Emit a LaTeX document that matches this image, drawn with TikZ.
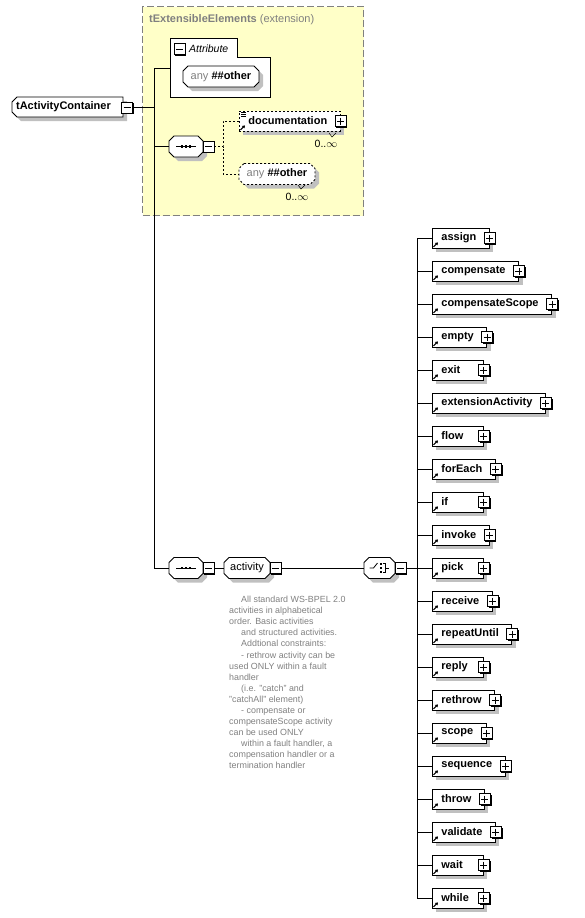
\documentclass[tikz,border=0pt]{standalone}
\usepackage{fontspec}
\setmainfont{Liberation Sans}
\usetikzlibrary{positioning,arrows.meta,shadows}
\definecolor{xsyel}{HTML}{FFFFC8}
\definecolor{xsgray}{HTML}{808080}
\definecolor{xsshadow}{HTML}{C0C0C0}
\newlength{\elw}
\newcommand{\elname}[1]{\settowidth{\elw}{#1}\ifdim\elw<29pt\setlength{\elw}{29pt}\fi\hspace*{9pt}\makebox[\elw][l]{#1}\hspace*{13pt}}
\newcommand{\ind}{\hspace*{12pt}}
% octagon outline: centre x, centre y, half width
\newcommand{\octshape}[3]{(#1-#3+5,#2-10.5) -- (#1+#3-5,#2-10.5) -- (#1+#3,#2-5.5) -- (#1+#3,#2+5.5) -- (#1+#3-5,#2+10.5) -- (#1-#3+5,#2+10.5) -- (#1-#3,#2+5.5) -- (#1-#3,#2-5.5) -- cycle}
% [outline style] name, x, y, half width, text
\newcommand{\octnode}[6][]{%
  \fill[xsshadow, shift={(4,4)}] \octshape{#3}{#4}{#5};
  \draw[wire, fill=white, #1] \octshape{#3}{#4}{#5};
  \node[inner sep=0pt, minimum height=21pt, minimum width={2*#5*1pt}] (#2) at (#3,#4) {#6};}

\begin{document}
\begin{tikzpicture}[
  x=1pt, y=-1pt, font=\fontsize{11}{13}\selectfont,
  shade/.style={drop shadow={shadow xshift=4pt, shadow yshift=-4pt, fill=xsshadow, opacity=1}},
  elem/.style={draw, line width=0.8pt, fill=white, shade, font=\fontsize{11}{13}\selectfont\bfseries, minimum height=20pt, inner sep=0pt, anchor=west},
  pmbox/.style={draw, fill=white, minimum size=11pt, inner sep=0pt, line width=0.7pt, drop shadow={shadow xshift=1.3pt, shadow yshift=-1.3pt, fill=black, opacity=1}},
  plus/.style={pmbox, path picture={\draw[line width=0.8pt] ([xshift=2pt]path picture bounding box.west) -- ([xshift=-2pt]path picture bounding box.east) ([yshift=-2pt]path picture bounding box.north) -- ([yshift=2pt]path picture bounding box.south);}},
  minus/.style={pmbox, path picture={\draw[line width=0.8pt] ([xshift=2pt]path picture bounding box.west) -- ([xshift=-2pt]path picture bounding box.east);}},
  wire/.style={line width=0.8pt},
  opt/.style={wire, dash pattern=on 2pt off 2pt},
  ref/.style={-{Triangle[length=2.6pt,width=3.2pt]}, line width=1pt},
  card/.style={font=\fontsize{10.5}{12}\selectfont, inner sep=0pt},
  desc/.style={font=\fontsize{8.9}{11.07}\selectfont, text=xsgray, align=left, inner sep=0pt},
  pics/seqmark/.style={code={
    \draw[wire] (-10,0) -- (10,0);
    \foreach \dx in {-4,0,4} \fill (\dx-1.3,-1.3) rectangle ++(2.6,2.6);
  }},
  pics/chcmark/.style={code={
    \draw[wire] (-10,0) -- (-6,0) -- (-2,-5);
    \foreach \dy in {-4,0,4} \fill (0,\dy-1.1) rectangle ++(2.2,2.2);
    \draw[wire] (3,-4.5) -- (5.5,-4.5) -- (5.5,4.5) -- (3,4.5) (5.5,0) -- (9.5,0);
  }},
]
\useasboundingbox (0,0) rectangle (584,918);

% --- extension frame ---
\node[draw=xsgray, dash pattern=on 7pt off 3pt, line width=1.3pt, fill=xsyel, minimum width=221pt, minimum height=209pt, anchor=north west] (ext) at (142,6) {};
\node[anchor=base west, text=xsgray, inner sep=0pt] (ext-t) at (149,23) {\textbf{tExtensibleElements} (extension)};

% --- attribute group ---
\draw[wire, fill=white] (170,38) -- (237,38) -- (237,57) -- (270,57) -- (270,97) -- (170,97) -- cycle;
\coordinate (attr) at (170,68);
\node[minus] (attr-m) at (179.5,49) {};
\node[anchor=west, inner sep=0pt, font=\fontsize{10.5}{12}\selectfont\itshape] (attr-t) at (189,49) {Attribute};
\octnode{anyA}{221}{76.5}{38}{\textcolor{xsgray}{any} \textbf{\#\#other}}

% --- root ---
\fill[xsshadow, shift={(4,4)}] (17,97) -- (123,97) -- (123,117) -- (17,117) -- (12,112) -- (12,102) -- cycle;
\draw[wire, fill=white] (17,97) -- (123,97) -- (123,117) -- (17,117) -- (12,112) -- (12,102) -- cycle;
\node[inner sep=0pt, minimum width=111pt, minimum height=20pt, font=\fontsize{11}{13}\selectfont\bfseries] (root) at (67.5,107) {tActivityContainer\hspace*{8pt}};
\node[minus] (root-m) at (127,107.5) {};

% --- trunk ---
\coordinate (trunk-top) at (154,68);
\coordinate (trunk-bot) at (154,568);
\draw[wire] (trunk-top) -- (trunk-bot);
\draw[wire] (trunk-top) -- (attr);
\draw[wire] (root-m.east) -- (root-m.east -| trunk-top);

% --- first sequence (inside extension) ---
\octnode{seqA}{186}{146.5}{17}{}
\pic at (seqA.center) {seqmark};
\node[minus] (seqA-m) at (208.5,146.5) {};
\draw[wire] (seqA.west -| trunk-top) -- (seqA.west);
\coordinate (seqA-fork) at (223,146.5);
\draw[opt] (seqA-m.east) -- (seqA-fork);

\node[elem, dash pattern=on 2pt off 2pt] (doc) at (239,121) {\elname{documentation}};
\node[plus] (doc-x) at (doc.east) {};
\draw[line width=0.6pt] ([xshift=2pt,yshift=-2pt]doc.north west) -- ++(5,0) ([xshift=2pt,yshift=-4pt]doc.north west) -- ++(5,0) ([xshift=2pt,yshift=-6pt]doc.north west) -- ++(5,0);
\draw[ref] ([xshift=1.5pt,yshift=1.5pt]doc.south west) -- ++(4.5,-4.5);
\octnode[dash pattern=on 2pt off 2pt]{anyB}{277}{174}{38}{\textcolor{xsgray}{any} \textbf{\#\#other}}
\draw[opt] (doc.west) -| (seqA-fork) |- (anyB.west);
\draw[line width=0.5pt] (329,133) -- (332,137) -- (336,133);
\draw[line width=0.5pt] (298,185) -- (301,189) -- (305,185);
\node[card] (doc-c) at (326,144) {0..$\infty$};
\node[card] (anyB-c) at (297,197) {0..$\infty$};

% --- second sequence, activity group, choice ---
\octnode{seqB}{186}{568}{17}{}
\pic at (seqB.center) {seqmark};
\node[minus] (seqB-m) at (208.5,568) {};
\octnode{act}{247}{568}{23}{activity}
\node[minus] (act-m) at (275.5,568) {};
\octnode{chc}{379.5}{568}{15.5}{}
\pic at (chc.center) {chcmark};
\node[minus] (chc-m) at (400.5,568) {};
\coordinate (bus-top) at (417,238);
\coordinate (bus-mid) at (417,568);
\coordinate (bus-bot) at (417,898);
\draw[wire] (trunk-bot) -- (seqB.west);
\draw[wire] (seqB-m.east) -- (act.west);
\draw[wire] (act-m.east) -- (chc.west);
\draw[wire] (chc-m.east) -- (bus-mid);
\draw[wire] (bus-top) -- (bus-bot);

\node[desc, anchor=north west] (act-doc) at (229,596) {\ind All standard WS-BPEL 2.0\\activities in alphabetical\\order. Basic activities\\\ind and structured activities.\\\ind Addtional constraints:\\\ind - rethrow activity can be\\used ONLY within a fault\\handler\\\ind (i.e. "catch" and\\"catchAll" element)\\\ind - compensate or\\compensateScope activity\\can be used ONLY\\\ind within a fault handler, a\\compensation handler or a\\termination handler};

% --- activities ---
\foreach \nm [count=\i from 0] in {assign,compensate,compensateScope,empty,exit,extensionActivity,flow,forEach,if,invoke,pick,receive,repeatUntil,reply,rethrow,scope,sequence,throw,validate,wait,while} {
  \node[elem] (\nm) at (432,238+33*\i) {\elname{\nm}};
  \node[plus] (\nm-x) at (\nm.east) {};
  \draw[ref] ([xshift=1.5pt,yshift=1.5pt]\nm.south west) -- ++(4.5,-4.5);
  \draw[wire] (bus-top |- \nm.west) -- (\nm.west);
}
\end{tikzpicture}
\end{document}
